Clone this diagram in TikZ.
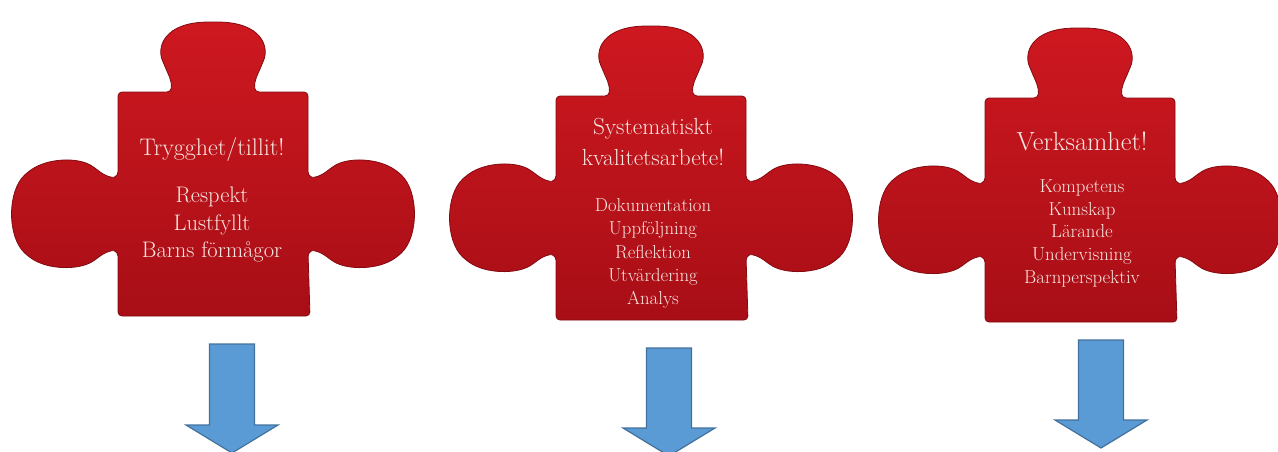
\documentclass[tikz,border=0pt]{standalone}
\usetikzlibrary{positioning}
\definecolor{pzred}{RGB}{206,24,32}
\definecolor{pzdark}{RGB}{168,14,22}
\definecolor{pzline}{RGB}{130,10,16}
\definecolor{pztext}{RGB}{247,230,224}
\definecolor{arfill}{RGB}{91,155,213}
\definecolor{arline}{RGB}{65,113,156}
\tikzset{piece/.style={draw=pzline,line width=0.8pt,top color=pzred,bottom color=pzdark,rounded corners=4pt},
  head text/.style={text=pztext,align=center,inner sep=0pt,outer sep=0pt},
  item text/.style={text=pztext,align=center,inner sep=0pt,outer sep=0pt},
  arrow box/.style={fill=arfill,draw=arline,line width=1.2pt,line join=miter},
  pics/puzzle/.style={code={
    \path[piece] (-95,-112) -- (-42,-112)
      .. controls (-41,-124) and (-45,-130) .. (-49,-140)
      .. controls (-56,-156) and (-50,-182) .. (0,-182)
      .. controls (50,-182) and (56,-156) .. (49,-140)
      .. controls (45,-130) and (41,-124) .. (42,-112)
      -- (95,-112) -- (95,-28)
      .. controls (101,-26) and (108,-28) .. (118,-36)
      .. controls (135,-47) and (165,-46) .. (185,-32)
      .. controls (206,-13) and (206,33) .. (185,52)
      .. controls (165,66) and (135,66) .. (118,56)
      .. controls (108,48) and (101,46) .. (95,48)
      -- (97,112) -- (-95,112) -- (-95,48)
      .. controls (-101,46) and (-108,48) .. (-118,56)
      .. controls (-135,66) and (-165,66) .. (-185,52)
      .. controls (-206,33) and (-206,-13) .. (-185,-32)
      .. controls (-165,-46) and (-135,-47) .. (-118,-36)
      .. controls (-108,-28) and (-101,-26) .. (-95,-28)
      -- cycle;
  }},
  pics/downarrow/.style={code={
    \path[arrow box] (-22.5,0) -- (22.5,0) -- (22.5,#1-28) -- (46,#1-28)
      -- (0,#1) -- (-46,#1-28) -- (-22.5,#1-28) -- cycle;
  }}}

\begin{document}
\begin{tikzpicture}[x=1pt,y=-1pt]
    \useasboundingbox (0,0) rectangle (1278,451);
    \clip (0,0) rectangle (1278,451);

    \pic at (213,204) {puzzle};
    \pic at (651,208) {puzzle};
    \pic at (1080,210) {puzzle};

    \node[head text,font=\fontsize{24}{29}\selectfont] (h1) at (212,149) {Trygghet/tillit!};
    \node[item text,font=\fontsize{22.5}{27.5}\selectfont] (i1) [below=26pt of h1] {Respekt\\Lustfyllt\\Barns förmågor};

    \node[head text,font=\fontsize{23.3}{31}\selectfont] (h2) at (653,142) {Systematiskt\\kvalitetsarbete!};
    \node[item text,font=\fontsize{18.7}{23.25}\selectfont] (i2) [below=33pt of h2] {Dokumentation\\Uppföljning\\Reflektion\\Utvärdering\\Analys};

    \node[head text,font=\fontsize{26.3}{31}\selectfont] (h3) at (1082,141) {Verksamhet!};
    \node[item text,font=\fontsize{18.8}{22.75}\selectfont] (i3) [below=29pt of h3] {Kompetens\\Kunskap\\Lärande\\Undervisning\\Barnperspektiv};

    \pic at (232,344) {downarrow=109};
    \pic at (669,348) {downarrow=108};
    \pic at (1101,340) {downarrow=108};
\end{tikzpicture}
\end{document}
